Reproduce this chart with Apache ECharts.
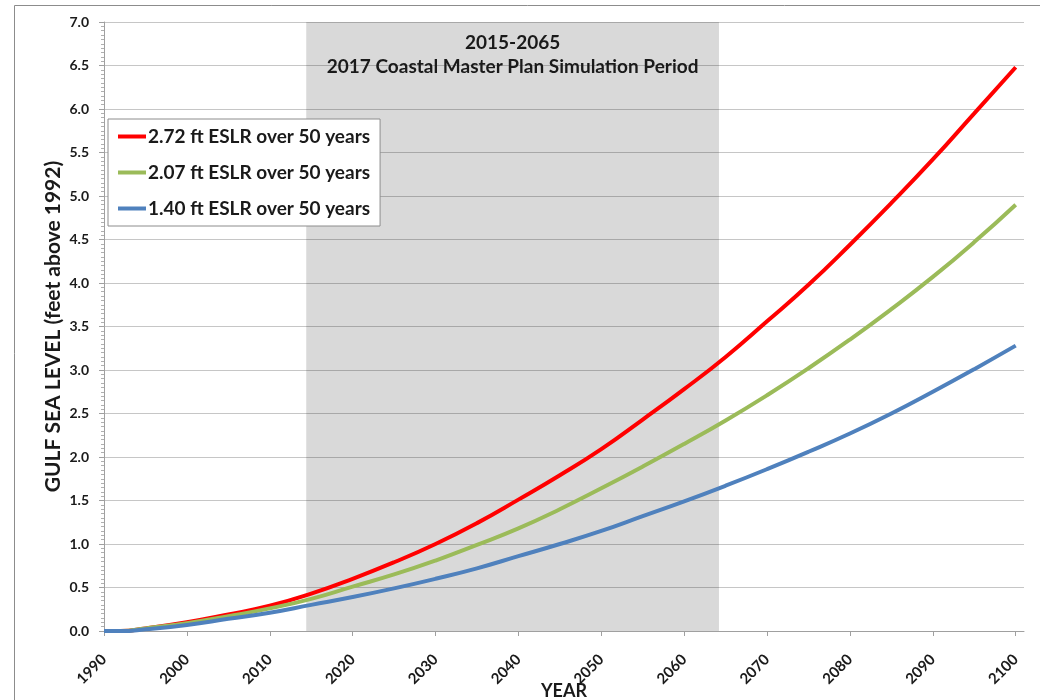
<!DOCTYPE html>
<html>
<head>
<meta charset="utf-8">
<script src="https://cdn.jsdelivr.net/npm/echarts@6/dist/echarts.min.js"></script>
<style>
html, body { margin: 0; padding: 0; background: #fff; }
#c_chart { width: 1040px; height: 700px; }
</style>
</head>
<body>
<div id="c_chart"></div>
<script>
// sea level curves, feet above 1992
var years = [1990, 1992, 1995, 2000, 2005, 2010, 2015, 2020, 2025, 2030, 2035, 2040, 2045, 2050, 2055, 2060, 2065, 2070, 2075, 2080, 2085, 2090, 2095, 2100];
var high = [0, 0, 0.03, 0.10, 0.19, 0.29, 0.43, 0.60, 0.79, 1.00, 1.24, 1.51, 1.79, 2.09, 2.43, 2.78, 3.15, 3.56, 3.98, 4.44, 4.92, 5.42, 5.95, 6.48];
var mid = [0, 0, 0.03, 0.09, 0.17, 0.26, 0.37, 0.51, 0.65, 0.81, 0.99, 1.18, 1.40, 1.64, 1.89, 2.15, 2.42, 2.71, 3.02, 3.35, 3.70, 4.07, 4.47, 4.90];
var low = [0, 0, 0.02, 0.07, 0.14, 0.21, 0.30, 0.39, 0.49, 0.60, 0.72, 0.86, 1.00, 1.15, 1.32, 1.49, 1.67, 1.86, 2.06, 2.27, 2.50, 2.75, 3.01, 3.28];
var names = ['2.72 ft ESLR over 50 years', '2.07 ft ESLR over 50 years', '1.40 ft ESLR over 50 years'];
var period = [2014.4, 2064.2];
var periodText = '2015-2065\n2017 Coastal Master Plan Simulation Period';

var FONT = 'Lato';
var dm = document.getElementById('c_chart');
var ch = echarts.init(dm);

function pairs(vals) {
    return years.map(function (y, i) { return [y, vals[i]]; });
}

var option = {
    animation: false,
    graphic: [{
        type: 'rect',
        shape: { x: 14.5, y: 5.5, width: 1040, height: 700 },
        style: { fill: 'none', stroke: '#8c8c8c', lineWidth: 1 },
        silent: true
    }],
    legend: {
        orient: 'vertical',
        left: 108,
        top: 119,
        padding: [8, 10, 8, 10],
        itemGap: 17,
        icon: 'rect',
        itemWidth: 28,
        itemHeight: 4,
        backgroundColor: '#fff',
        borderColor: '#8c8c8c',
        borderWidth: 1,
        borderRadius: 0,
        data: names,
        textStyle: { fontFamily: FONT, fontWeight: 'bold', fontSize: 19, color: '#1a1a1a', padding: [0, 0, 0, -3] }
    },
    grid: { left: 104, right: 16, top: 22, bottom: 69, outerBoundsMode: 'none' },
    xAxis: {
        type: 'value',
        min: 1990,
        max: 2101,
        interval: 10,
        name: 'YEAR',
        nameLocation: 'middle',
        nameGap: 51,
        nameMoveOverlap: false,
        nameTextStyle: { fontFamily: FONT, fontWeight: 'bold', fontSize: 18, color: '#1a1a1a' },
        axisLine: { show: true, lineStyle: { color: '#a0a0a0' } },
        axisTick: { show: true, length: 5, lineStyle: { color: '#a0a0a0' } },
        splitLine: { show: false },
        axisLabel: {
            rotate: 45,
            margin: 26,
            showMaxLabel: false,
            formatter: function (v) { return String(v); },
            fontFamily: FONT, fontWeight: 'bold', fontSize: 15, color: '#1a1a1a'
        }
    },
    yAxis: {
        type: 'value',
        min: 0,
        max: 7,
        interval: 0.5,
        name: 'GULF SEA LEVEL (feet above 1992)',
        nameLocation: 'middle',
        nameGap: 40,
        nameMoveOverlap: false,
        nameTextStyle: { fontFamily: FONT, fontWeight: 'bold', fontSize: 21, color: '#1a1a1a' },
        axisLine: { show: true, lineStyle: { color: '#a0a0a0' } },
        axisTick: { show: true, length: 5, lineStyle: { color: '#a0a0a0' } },
        minorTick: { show: true, splitNumber: 10, length: 3, lineStyle: { color: '#b0b0b0' } },
        splitLine: { show: true, lineStyle: { color: '#c6c6c6' } },
        axisLabel: {
            margin: 15,
            formatter: function (v) { return v.toFixed(1); },
            fontFamily: FONT, fontWeight: 'bold', fontSize: 14, color: '#1a1a1a'
        }
    },
    series: [
        {
            name: names[0],
            type: 'line',
            data: pairs(high),
            smooth: true,
            showSymbol: false,
            lineStyle: { width: 4, color: '#ff0000' },
            itemStyle: { color: '#ff0000' },
            markArea: {
                silent: true,
                itemStyle: { color: 'rgba(0,0,0,0.15)' },
                label: {
                    show: true,
                    position: 'insideTop',
                    distance: 9,
                    lineHeight: 24,
                    fontFamily: FONT, fontWeight: 'bold', fontSize: 19, color: '#1a1a1a'
                },
                data: [[{ xAxis: period[0], name: periodText }, { xAxis: period[1] }]]
            }
        },
        {
            name: names[1],
            type: 'line',
            data: pairs(mid),
            smooth: true,
            showSymbol: false,
            lineStyle: { width: 4, color: '#9bbb59' },
            itemStyle: { color: '#9bbb59' }
        },
        {
            name: names[2],
            type: 'line',
            data: pairs(low),
            smooth: true,
            showSymbol: false,
            lineStyle: { width: 4, color: '#4f81bd' },
            itemStyle: { color: '#4f81bd' }
        }
    ]
};

ch.setOption(option);
window.onresize = function () {
    ch.resize();
};
</script>
</body>
</html>
